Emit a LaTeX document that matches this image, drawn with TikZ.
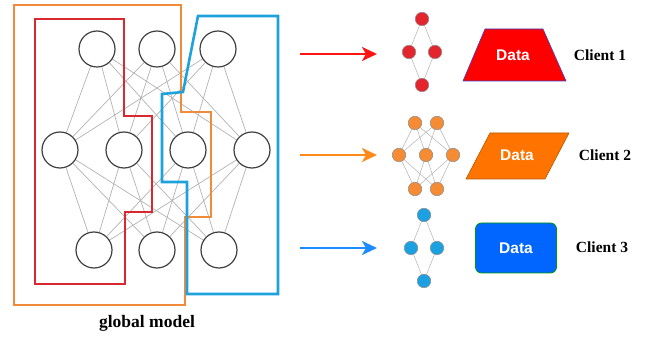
\documentclass[tikz,border=0pt]{standalone}
\usepackage{fontspec}
\setmainfont{Liberation Serif}
\newfontfamily\datafont{Liberation Sans}
\usepackage{xcolor}
\usetikzlibrary{arrows,arrows.meta,backgrounds,positioning}

\definecolor{partred}{HTML}{D92830}
\definecolor{partorange}{HTML}{F08B3B}
\definecolor{partblue}{HTML}{1DA2DC}
\definecolor{minired}{HTML}{E3262E}
\definecolor{miniorange}{HTML}{F58B32}
\definecolor{miniblue}{HTML}{1BA1E2}
\definecolor{arrred}{HTML}{FF1414}
\definecolor{arrorange}{HTML}{FF8A1A}
\definecolor{arrblue}{HTML}{1A8CFF}

\begin{document}
\begin{tikzpicture}[x=1pt, y=-1pt,
  neuron/.style={circle, draw=black!75, line width=1.2pt, fill=white, minimum size=36pt, inner sep=0pt},
  synapse/.style={gray!60, line width=0.7pt},
  part/.style={line width=2.6pt, line join=miter},
  mininode/.style={circle, draw=gray!90, line width=0.5pt, minimum size=13.5pt, inner sep=0pt},
  miniedge/.style={gray!60, line width=0.5pt},
  sendarr/.style={-{Stealth[length=15pt,width=14pt,inset=4pt]}, line width=2.4pt},
  datalbl/.style={font=\datafont\bfseries\fontsize{15.5}{18}\selectfont, text=white},
  clientlbl/.style={font=\bfseries\fontsize{15.5}{18}\selectfont},
  caption/.style={font=\bfseries\fontsize{17.5}{20}\selectfont}]

\useasboundingbox (0,0) rectangle (649,339);

% global model
\node[neuron] (t1) at (97,49)  {};
\node[neuron] (t2) at (157,49) {};
\node[neuron] (t3) at (218,49) {};
\node[neuron] (m1) at (60,150)  {};
\node[neuron] (m2) at (124,150) {};
\node[neuron] (m3) at (188,150) {};
\node[neuron] (m4) at (252,150) {};
\node[neuron] (b1) at (94,250)  {};
\node[neuron] (b2) at (157,250) {};
\node[neuron] (b3) at (219,250) {};

\begin{scope}[on background layer]
  \foreach \i in {t1,t2,t3} {\foreach \j in {m1,m2,m3,m4} {\draw[synapse] (\i) -- (\j);}}
  \foreach \i in {m1,m2,m3,m4} {\foreach \j in {b1,b2,b3} {\draw[synapse] (\i) -- (\j);}}
\end{scope}

\draw[part, partorange] (14,5) -- (181,5) -- (181,112) -- (211,112) -- (211,217) -- (185,217) -- (185,305) -- (14,305) -- cycle;
\draw[part, partred] (35,19) -- (124,19) -- (124,116) -- (152,116) -- (152,212) -- (125,212) -- (125,284) -- (35,284) -- cycle;
\draw[part, partblue] (198,16) -- (278,16) -- (278,294) -- (187,294) -- (187,182) -- (162,182) -- (162,94) -- (183,92) -- cycle;

\node[caption] (gm) at (147,323) {global model};

% sending arrows
\coordinate (s1) at (300,54);  \coordinate (e1) at (377,54);
\coordinate (s2) at (300,155); \coordinate (e2) at (377,155);
\coordinate (s3) at (300,248); \coordinate (e3) at (377,248);
\draw[sendarr, arrred] (s1) -- (e1);
\draw[sendarr, arrorange] (s2) -- (e2);
\draw[sendarr, arrblue] (s3) -- (e3);

% client 1
\begin{scope}[shift={(422,52)}]
  \node[mininode, fill=minired] (c1) at (0,-33) {};
  \node[mininode, fill=minired] (c2) at (-13,0) {};
  \node[mininode, fill=minired] (c3) at (13,0)  {};
  \node[mininode, fill=minired] (c4) at (0,33)  {};
  \begin{scope}[on background layer]
    \foreach \i/\j in {c1/c2,c1/c3,c2/c4,c3/c4} {\draw[miniedge] (\i) -- (\j);}
  \end{scope}

  \draw[fill=red, draw=blue!50!gray, line width=0.6pt] (41,29) -- (144,29) -- (121,-23) -- (63,-23) -- cycle;
  \node[datalbl] (d1) at (91,3) {Data};
  \node[clientlbl] (k1) at (178,3) {Client 1};
\end{scope}

% client 2
\begin{scope}[shift={(426,155)}]
  \node[mininode, fill=miniorange] (u1) at (-11,-32) {};
  \node[mininode, fill=miniorange] (u2) at (11,-32)  {};
  \node[mininode, fill=miniorange] (v1) at (-27,0) {};
  \node[mininode, fill=miniorange] (v2) at (0,0)   {};
  \node[mininode, fill=miniorange] (v3) at (27,0)  {};
  \node[mininode, fill=miniorange] (w1) at (-11,34) {};
  \node[mininode, fill=miniorange] (w2) at (11,34)  {};
  \begin{scope}[on background layer]
    \foreach \i in {u1,u2,w1,w2} {\foreach \j in {v1,v2,v3} {\draw[miniedge] (\i) -- (\j);}}
  \end{scope}

  \draw[fill=orange!90!red, draw=orange!70!black, line width=0.6pt] (40,24) -- (119,24) -- (143,-22) -- (64,-22) -- cycle;
  \node[datalbl] (d2) at (91,0) {Data};
  \node[clientlbl] (k2) at (179,0) {Client 2};
\end{scope}

% client 3
\begin{scope}[shift={(424,248)}]
  \node[mininode, fill=miniblue] (c1) at (0,-33) {};
  \node[mininode, fill=miniblue] (c2) at (-13,0) {};
  \node[mininode, fill=miniblue] (c3) at (13,0)  {};
  \node[mininode, fill=miniblue] (c4) at (0,33)  {};
  \begin{scope}[on background layer]
    \foreach \i/\j in {c1/c2,c1/c3,c2/c4,c3/c4} {\draw[miniedge] (\i) -- (\j);}
  \end{scope}

  \node[datalbl, fill=blue!50!cyan!80!blue, draw=green!60!black, line width=0.8pt, rounded corners=6pt,
        minimum width=81pt, minimum height=50pt] (d3) at (92,0) {Data};
  \node[clientlbl] (k3) at (178,-1) {Client 3};
\end{scope}

\end{tikzpicture}
\end{document}
